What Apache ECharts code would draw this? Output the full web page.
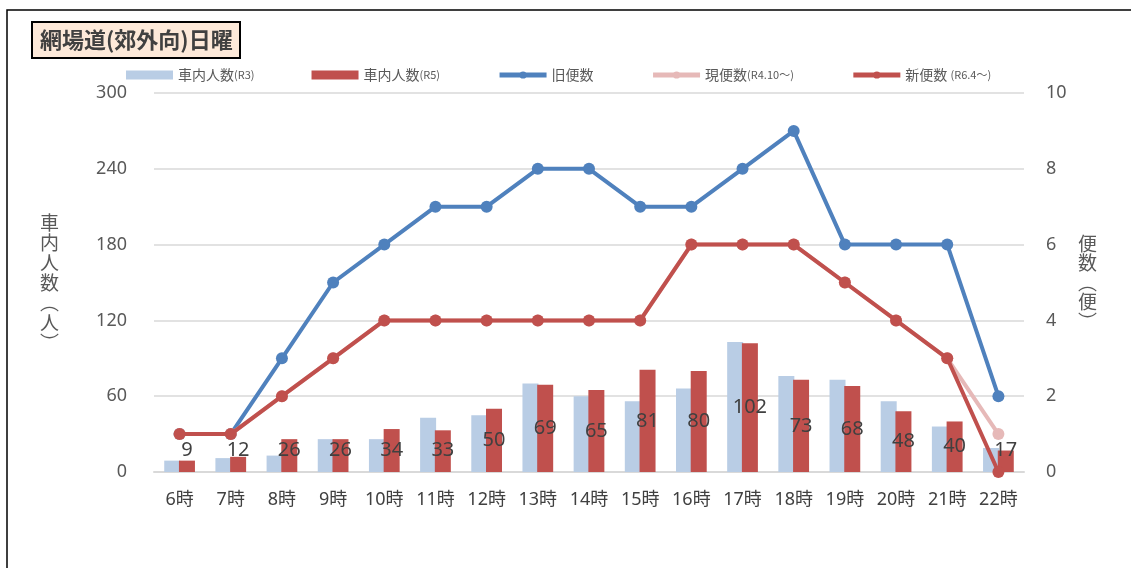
<!DOCTYPE html>
<html>
<head>
<meta charset="utf-8">
<script src="https://cdn.jsdelivr.net/npm/echarts@6/dist/echarts.min.js"></script>
<style>
  html, body { margin: 0; padding: 0; background: #fff; }
  #chart { width: 1131px; height: 568px; }
</style>
</head>
<body>
<div id="chart"></div>
<script>
const categories = ['6時','7時','8時','9時','10時','11時','12時','13時','14時','15時','16時','17時','18時','19時','20時','21時','22時'];
const ridersR3 = [9, 11, 13, 26, 26, 43, 45, 70, 60, 56, 66, 103, 76, 73, 56, 36, 19];
const ridersR5 = [9, 12, 26, 26, 34, 33, 50, 69, 65, 81, 80, 102, 73, 68, 48, 40, 17];
const oldTrips = [1, 1, 3, 5, 6, 7, 7, 8, 8, 7, 7, 8, 9, 6, 6, 6, 2];
const currentTrips = [1, 1, 2, 3, 4, 4, 4, 4, 4, 4, 6, 6, 6, 5, 4, 3, 1];
const newTrips = [1, 1, 2, 3, 4, 4, 4, 4, 4, 4, 6, 6, 6, 5, 4, 3, 0];
const leftAxis = { min: 0, max: 300, interval: 60 };
const rightAxis = { min: 0, max: 10, interval: 2 };
const seriesNames = ['車内人数(R3)', '車内人数(R5)', '旧便数', '現便数(R4.10〜)', '新便数 (R6.4〜)'];

const FONT = '"Noto Sans", "Noto Sans CJK JP", sans-serif';
const CJK = '"Noto Sans CJK JP", sans-serif';
const chart = echarts.init(document.getElementById('chart'));

function legendFmt(name) {
  const i = name.indexOf('(');
  if (i < 0) return '{a|' + name + '}';
  return '{a|' + name.slice(0, i) + '}{b|' + name.slice(i) + '}';
}

chart.setOption({
  animation: false,
  backgroundColor: '#fff',
  title: {
    text: '網場道(郊外向)日曜',
    left: 32, top: 22,
    padding: [4, 8, 4, 8],
    backgroundColor: '#fde9d9',
    borderColor: '#000', borderWidth: 2,
    textStyle: { fontFamily: CJK, fontSize: 22, lineHeight: 28, fontWeight: 'bold', color: '#404040' }
  },
  graphic: [{
    type: 'rect', silent: true, z: -1,
    shape: { x: 7, y: 10, width: 1140, height: 600 },
    style: { fill: 'none', stroke: '#000', lineWidth: 1.5 }
  }],
  legend: {
    left: 121, top: 63,
    itemWidth: 47, itemHeight: 9, itemGap: 57,
    formatter: legendFmt,
    lineStyle: { width: 5 },
    textStyle: {
      color: '#595959',
      rich: {
        a: { fontFamily: CJK, fontSize: 14, color: '#595959' },
        b: { fontFamily: CJK, fontSize: 11, color: '#595959' }
      }
    },
    data: [
      { name: seriesNames[0], icon: 'rect' },
      { name: seriesNames[1], icon: 'rect' },
      { name: seriesNames[2] },
      { name: seriesNames[3] },
      { name: seriesNames[4] }
    ]
  },
  grid: { left: 154, right: 107, top: 93, bottom: 96 },
  xAxis: {
    type: 'category',
    data: categories,
    axisTick: { show: false },
    axisLine: { lineStyle: { color: '#d9d9d9', width: 2 } },
    axisLabel: { color: '#404040', fontSize: 18, fontFamily: FONT, margin: 19 }
  },
  yAxis: [{
    type: 'value', min: leftAxis.min, max: leftAxis.max, interval: leftAxis.interval,
    name: '車\n内\n人\n数\n︵\n人\n︶',
    nameLocation: 'middle', nameRotate: 0, nameGap: 95,
    nameTextStyle: { fontFamily: CJK, fontSize: 19, color: '#595959', lineHeight: 20 },
    axisLine: { show: false }, axisTick: { show: false },
    axisLabel: { color: '#595959', fontSize: 18, fontFamily: FONT, margin: 27 },
    splitLine: { lineStyle: { color: '#d9d9d9', width: 1.5 } }
  }, {
    type: 'value', min: rightAxis.min, max: rightAxis.max, interval: rightAxis.interval,
    name: '便\n数\n︵\n便\n︶',
    nameLocation: 'middle', nameRotate: 0, nameGap: 54,
    nameTextStyle: { fontFamily: CJK, fontSize: 19, color: '#595959', lineHeight: 19.5, padding: [16, 0, 0, 0] },
    axisLine: { show: false }, axisTick: { show: false },
    axisLabel: { color: '#595959', fontSize: 18, fontFamily: FONT, margin: 22 },
    splitLine: { show: false }
  }],
  series: [{
    name: seriesNames[0], type: 'bar', data: ridersR3,
    barWidth: 16, barGap: '-8%',
    itemStyle: { color: '#b9cde5' }, z: 1
  }, {
    name: seriesNames[1], type: 'bar', data: ridersR5,
    barWidth: 16, barGap: '-8%',
    itemStyle: { color: '#c0504d' }, z: 1,
    label: {
      show: true, position: 'inside', color: '#404040', fontSize: 20, fontFamily: FONT,
      align: 'center', verticalAlign: 'middle'
    },
    labelLayout: function (p) {
      const bottom = p.rect.y + p.rect.height;
      const center = p.rect.y + p.rect.height / 2;
      return {
        x: p.rect.x + p.rect.width / 2,
        y: Math.min(center, bottom - 22),
        align: 'center',
        verticalAlign: 'middle'
      };
    }
  }, {
    name: seriesNames[2], type: 'line', yAxisIndex: 1, data: oldTrips,
    symbol: 'circle', symbolSize: 12, clip: false,
    lineStyle: { color: '#4f81bd', width: 4 }, itemStyle: { color: '#4f81bd' }, z: 3
  }, {
    name: seriesNames[3], type: 'line', yAxisIndex: 1, data: currentTrips,
    symbol: 'circle', symbolSize: 12, clip: false,
    lineStyle: { color: '#e6b9b8', width: 4 }, itemStyle: { color: '#e6b9b8' }, z: 4
  }, {
    name: seriesNames[4], type: 'line', yAxisIndex: 1, data: newTrips,
    symbol: 'circle', symbolSize: 12, clip: false,
    lineStyle: { color: '#c0504d', width: 4 }, itemStyle: { color: '#c0504d' }, z: 5
  }]
});
</script>
</body>
</html>
